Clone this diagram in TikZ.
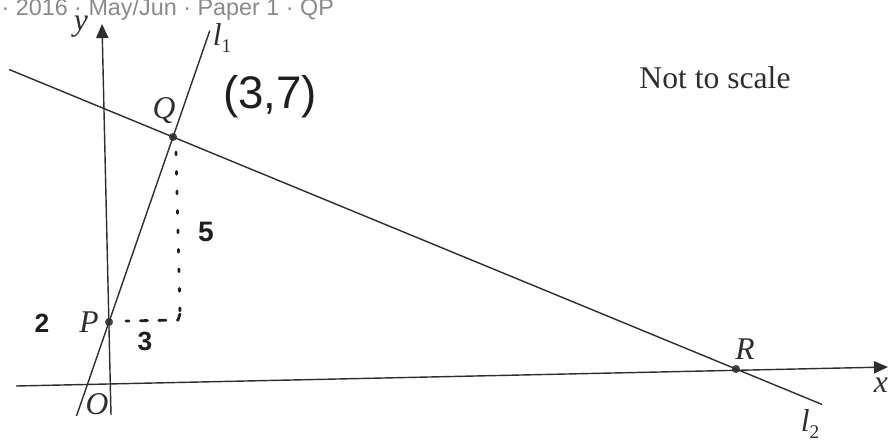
\documentclass[tikz,border=0pt]{standalone}
\usepackage{fontspec}
\setmainfont{Liberation Serif}
\newfontfamily\headfont{Liberation Sans}
\newfontfamily\handfont{Liberation Sans}
\usetikzlibrary{arrows.meta, calc}
\definecolor{pgline}{HTML}{2E2E2E}
\definecolor{pgdot}{HTML}{444444}
\definecolor{pghead}{HTML}{8A8A8A}
\definecolor{pgpen}{HTML}{1E1E1E}
\newcommand{\lsub}[2]{\textit{#1}\raisebox{-0.5ex}{\upshape\fontsize{11}{11}\selectfont #2}}

\begin{document}
\begin{tikzpicture}[
  x=0.02cm, y=-0.02cm,
  every node/.style={inner sep=0pt, outer sep=0pt},
  lbl/.style={font=\fontsize{18}{20}\selectfont\itshape, text=pgline},
  hand/.style={text=pgpen},
  axis/.style={draw=pgline, line width=0.8pt, -{Triangle[length=8pt, width=7pt]}},
  ln/.style={draw=pgline, line width=0.8pt},
  ptdot/.style={circle, fill=pgdot, minimum size=4.6pt},
  pendots/.style={draw=pgpen, line width=1.6pt, line cap=round, dash pattern=on 1.6pt off 9.5pt},
  pendash/.style={draw=pgpen, line width=1.6pt, line cap=round, dash pattern=on 4pt off 6.5pt},
]
\useasboundingbox (0,0) rectangle (892,443);

% header
\node[font=\headfont\fontsize{13.3}{15}\selectfont, text=pghead, anchor=base east] (head) at (334,15) {· 2016 · May/Jun · Paper 1 · QP};

% points
\node[ptdot] (P) at (109,322) {};
\node[ptdot] (Q) at (173,137) {};
\node[ptdot] (R) at (736,369) {};

% axes
\coordinate (xa) at (16,386);
\coordinate (xb) at (888,367);
\coordinate (ya) at (111,415);
\coordinate (yb) at (102,24);
\draw[axis] (xa) -- (xb);
\draw[axis] (ya) -- (yb);

% lines l1 and l2
\coordinate (l1a) at ($(P.center)!-0.508!(Q.center)$);
\coordinate (l1b) at ($(P.center)!1.575!(Q.center)$);
\coordinate (l2a) at ($(Q.center)!-0.291!(R.center)$);
\coordinate (l2b) at ($(Q.center)!1.153!(R.center)$);
\draw[ln] (l1a) -- (l1b);
\draw[ln] (l2a) -- (l2b);

% labels
\node[lbl] (ylbl) at (81,27) {y};
\node[lbl] (xlbl) at (881,385) {x};
\node[lbl] (l1lbl) at (222,38) {\lsub{l}{1}};
\node[lbl] (l2lbl) at (810,424) {\lsub{l}{2}};
\node[lbl] (Qlbl) at (164,111) {Q};
\node[lbl] (Plbl) at (89,322) {P};
\node[lbl] (Rlbl) at (745,349) {R};
\node[lbl] (Olbl) at (97,404) {O};
\node[font=\fontsize{18}{20}\selectfont, text=pgline] (nts) at (715,78) {Not to scale};

% handwritten working
\coordinate (qd) at (176,152);
\coordinate (cn) at (180,314);
\coordinate (pd) at (126,321);
\draw[pendots] (qd) -- (cn);
\draw[pendash] (cn) -- (178,320) -- (pd);
\node[hand, font=\handfont\fontsize{26}{28}\selectfont] (qxy) at (270,97) {(3,7)};
\node[hand, font=\handfont\bfseries\fontsize{16}{18}\selectfont] (five) at (206,232) {5};
\node[hand, font=\handfont\bfseries\fontsize{15}{17}\selectfont] (two) at (42,323) {2};
\node[hand, font=\handfont\bfseries\fontsize{15}{17}\selectfont] (three) at (145,341) {3};
\end{tikzpicture}
\end{document}
